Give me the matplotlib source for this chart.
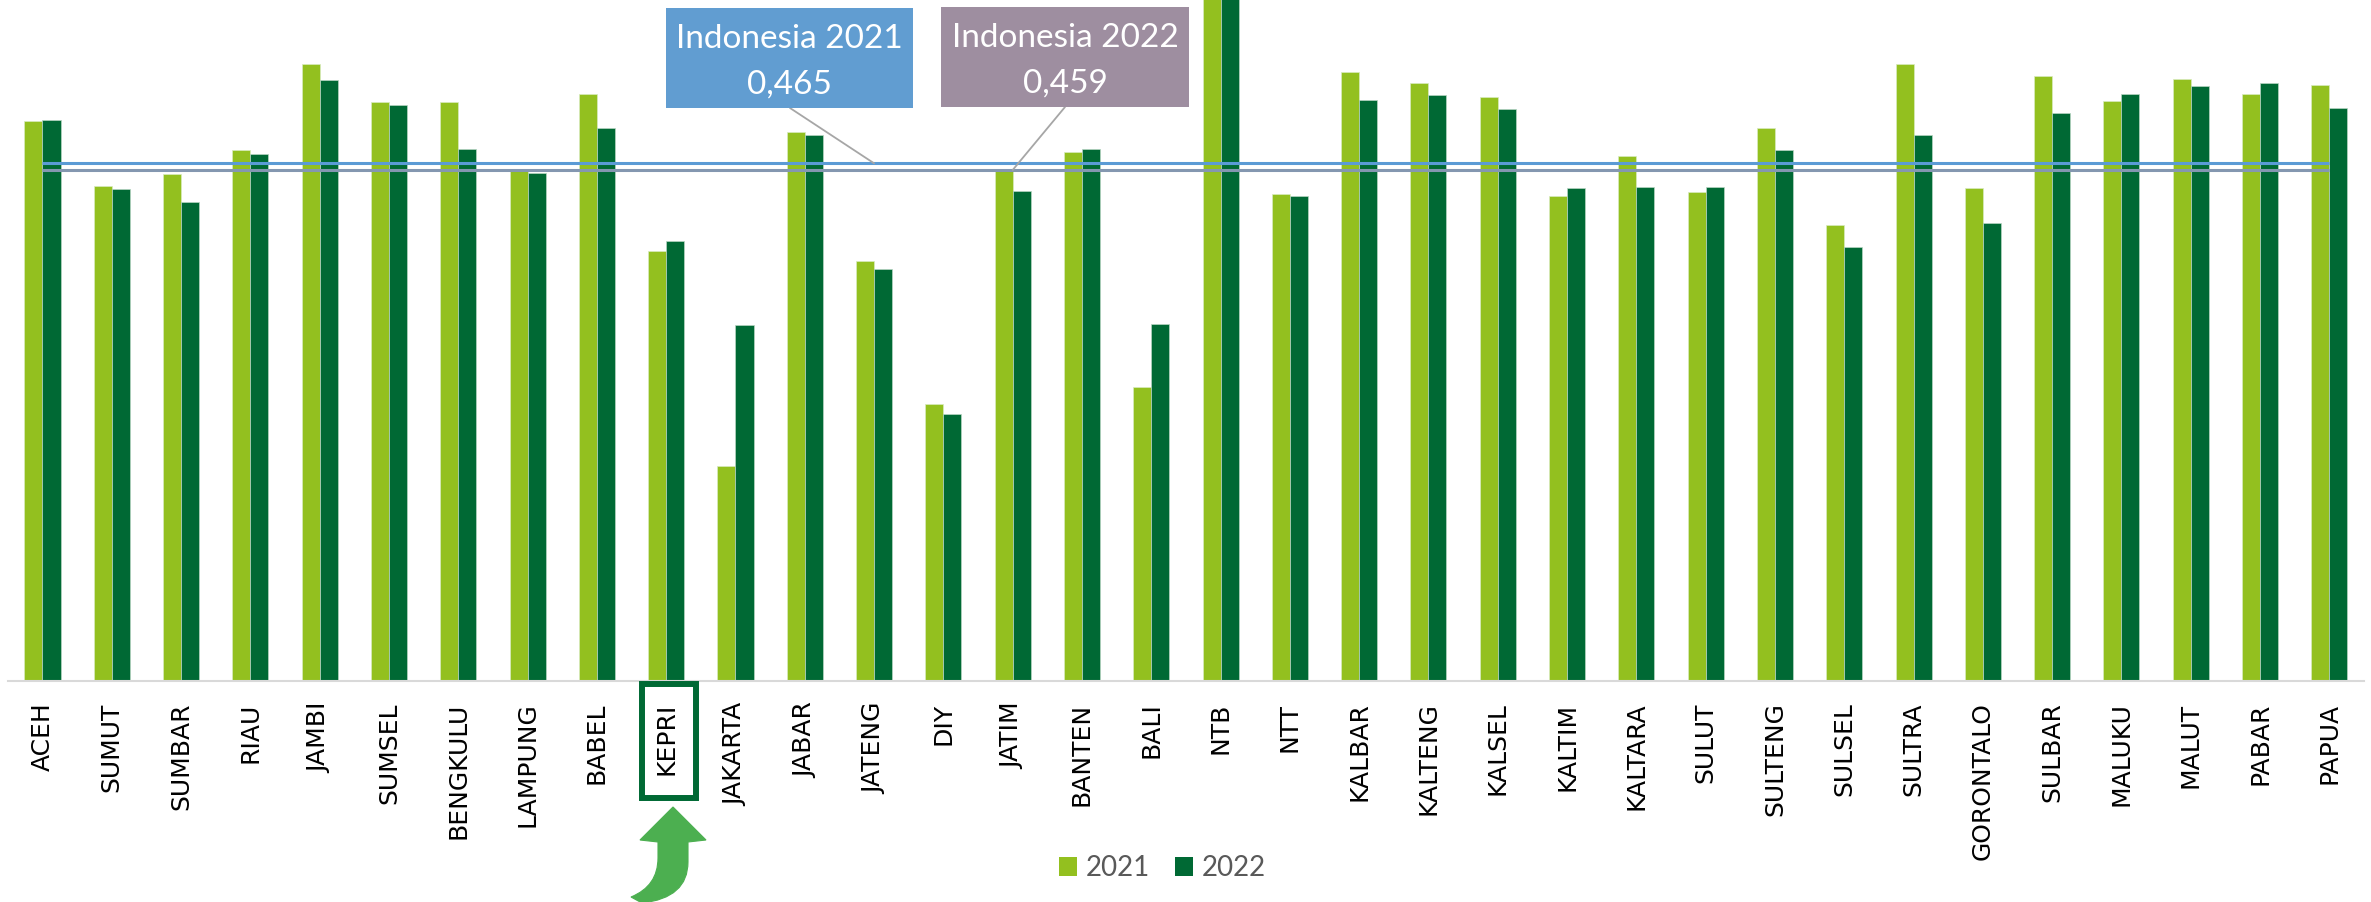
import matplotlib
matplotlib.use("Agg")
import matplotlib.pyplot as plt
import numpy as np
from matplotlib.patches import Rectangle, PathPatch, Patch
from matplotlib.path import Path

# ---------------- data ----------------
provinces = ["ACEH", "SUMUT", "SUMBAR", "RIAU", "JAMBI", "SUMSEL", "BENGKULU", "LAMPUNG",
             "BABEL", "KEPRI", "JAKARTA", "JABAR", "JATENG", "DIY", "JATIM", "BANTEN",
             "BALI", "NTB", "NTT", "KALBAR", "KALTENG", "KALSEL", "KALTIM", "KALTARA",
             "SULUT", "SULTENG", "SULSEL", "SULTRA", "GORONTALO", "SULBAR", "MALUKU",
             "MALUT", "PABAR", "PAPUA"]
values_2021 = [0.503, 0.445, 0.455, 0.477, 0.554, 0.520, 0.520, 0.4585,
               0.527, 0.386, 0.193, 0.493, 0.377, 0.249, 0.459, 0.475,
               0.264, 0.640, 0.437, 0.547, 0.537, 0.525, 0.436, 0.472,
               0.439, 0.497, 0.410, 0.554, 0.443, 0.543, 0.521,
               0.541, 0.527, 0.535]
values_2022 = [0.504, 0.442, 0.430, 0.473, 0.540, 0.517, 0.478, 0.456,
               0.497, 0.395, 0.320, 0.490, 0.370, 0.240, 0.440, 0.478,
               0.321, 0.650, 0.436, 0.522, 0.526, 0.514, 0.443, 0.444,
               0.444, 0.477, 0.390, 0.490, 0.411, 0.510, 0.527,
               0.534, 0.537, 0.515]
series_labels = ["2021", "2022"]
national_2021 = 0.465
national_2022 = 0.459
national_labels = ["Indonesia 2021\n0,465", "Indonesia 2022\n0,459"]
highlight = "KEPRI"

# ---------------- figure ----------------
W, H = 2371, 902
fig = plt.figure(figsize=(W / 100, H / 100), dpi=100)
ax_left = 7.85 / W
ax_right = 2364.0 / W
ax_bottom = (H - 681.0) / H
ax = fig.add_axes([ax_left, ax_bottom, ax_right - ax_left, 1.0 - ax_bottom])

c2021 = "#93c01f"
c2022 = "#006934"
x = np.arange(len(provinces))
bw = 0.26
ax.bar(x - bw / 2, values_2021, bw, color=c2021, edgecolor="#d8ebc0", linewidth=0.5, zorder=2)
ax.bar(x + bw / 2, values_2022, bw, color=c2022, edgecolor="#b9d6c4", linewidth=0.5, zorder=2)

ax.plot(x, [national_2021] * len(x), color="#5b9bd5", lw=2.2, zorder=3, solid_capstyle="butt")
ax.plot(x, [national_2022] * len(x), color="#8497b0", lw=2.2, zorder=3, solid_capstyle="butt")

ax.set_xlim(-0.5, len(x) - 0.5)
ax.set_ylim(0, 681.0 / 1113.3)
ax.set_xticks(x)
ax.set_xticklabels(provinces, rotation=90, fontsize=18, family="DejaVu Sans", color="black")
ax.tick_params(axis="x", length=0, pad=15.5)
ax.set_yticks([])
for s in ["top", "left", "right"]:
    ax.spines[s].set_visible(False)
ax.spines["bottom"].set_color("#d9d9d9")
ax.spines["bottom"].set_linewidth(1.5)


def fx(px):
    return px / W


def fy(py):
    return 1 - py / H


# annotation boxes
box_specs = [
    (666, 8, 913, 108, "#619dd1", national_labels[0], (12, national_2021), (790, 108)),
    (941, 7, 1189, 107, "#9e8ea0", national_labels[1], (14, national_2022), (1065, 107)),
]
for (x0, y0, x1, y1, col, lab, target, src) in box_specs:
    fig.patches.append(Rectangle((fx(x0), fy(y1)), fx(x1 - x0), (y1 - y0) / H,
                                 transform=fig.transFigure, facecolor=col, edgecolor="none", zorder=5))
    l1, l2 = lab.split("\n")
    cx = fx((x0 + x1) / 2)
    fig.text(cx, fy(y0 + 40), l1, ha="center", va="baseline", color="white",
             fontsize=24, family=["Lato", "DejaVu Sans"], zorder=6)
    fig.text(cx, fy(y0 + 86), l2, ha="center", va="baseline", color="white",
             fontsize=24, family=["Lato", "DejaVu Sans"], zorder=6)
    ax.annotate("", xy=target, xycoords="data",
                xytext=(fx(src[0]), fy(src[1])), textcoords="figure fraction",
                arrowprops=dict(arrowstyle="-", color="#a6a6a6", lw=1.3, shrinkA=0, shrinkB=0),
                annotation_clip=False, zorder=4)

# highlight rectangle around KEPRI label
fig.patches.append(Rectangle((fx(642), fy(798)), fx(696 - 642), (798 - 684) / H,
                             transform=fig.transFigure, facecolor="none",
                             edgecolor="#006934", linewidth=4.3, zorder=5))

# green curved arrow
pts = [
    ((673, 807), Path.MOVETO),
    ((706, 840), Path.LINETO),
    ((688, 842), Path.LINETO),
    ((688, 862), Path.LINETO),
    ((688, 898), Path.CURVE3),
    ((642, 903), Path.CURVE3),
    ((631, 897), Path.LINETO),
    ((658, 886), Path.CURVE3),
    ((658, 858), Path.CURVE3),
    ((658, 842), Path.LINETO),
    ((640, 840), Path.LINETO),
    ((673, 807), Path.CLOSEPOLY),
]
verts = [(fx(p[0]), fy(p[1])) for p, _ in pts]
codes = [c for _, c in pts]
fig.patches.append(PathPatch(Path(verts, codes), transform=fig.transFigure,
                             facecolor="#4caf50", edgecolor="#4caf50", lw=0.8, zorder=5))

# legend
handles = [Patch(facecolor=c2021, label=series_labels[0]),
           Patch(facecolor=c2022, label=series_labels[1])]
leg = fig.legend(handles=handles, loc="center", bbox_to_anchor=(1162.5 / W, 34 / H),
                 ncol=2, frameon=False, prop={"family": ["Lato", "DejaVu Sans"], "size": 20},
                 labelcolor="#595959", handlelength=0.65, handleheight=0.65,
                 handletextpad=0.3, columnspacing=0.9)

fig.savefig("out.png", dpi=100)
